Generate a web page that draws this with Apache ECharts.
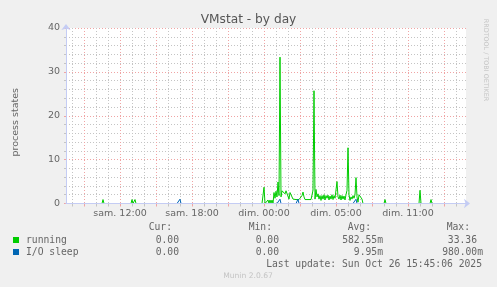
<!DOCTYPE html>
<html><head><meta charset="utf-8">
<script src="https://cdn.jsdelivr.net/npm/echarts@6/dist/echarts.min.js"></script>
<style>html,body{margin:0;padding:0;background:#f0f0f0}#c{width:497px;height:287px}</style>
</head><body><div id="c"></div>
<script>
// ---- data ----
const titleText = 'VMstat - by day';
const yAxisTitle = 'process states';
const seriesNames = ['running', 'I/O sleep'];
const seriesColors = ['#00cc00', '#0066b3'];
const yMin = 0, yMax = 40, yStep = 10;
const sampleCount = 401;          // 5-minute samples
const stepMinutes = 5;
const startMinute = 450;          // sam. 07:30 (minutes from sam. 00:00)
const dstSwitchMinute = 1620;     // dim. 03:00 CEST -> 02:00 CET
const dayNames = ['sam.', 'dim.'];
const xTickLabels = ['sam. 12:00', 'sam. 18:00', 'dim. 00:00', 'dim. 05:00', 'dim. 11:00'];
// [sample index, value]
const runningSamples = [
  [37,0.9],[66,0.9],[69,0.9],
  [198,3.7],[202,0.8],[204,0.8],[206,0.8],[208,2.5],[209,1.2],[210,2.8],[211,1.5],[212,4.9],[213,1.8],
  [214,33.36],[215,1.5],[216,2.9],[217,2.9],[218,2.9],[219,2.2],[220,2.9],[221,2.5],[222,3.0],[223,1.0],
  [224,2.5],[225,2.6],[226,2.2],[227,1.0],[228,0.9],[229,0.9],[230,0.9],[231,0.9],[232,0.9],[233,0.9],
  [234,0.9],[235,0.9],[236,1.8],[237,2.6],[238,1.5],[239,0.9],[240,0.9],[241,0.9],[242,0.9],[243,0.9],
  [244,0.9],[245,0.9],[246,0.9],[247,3.0],[248,25.7],[249,1.0],[250,3.2],[251,1.5],[252,2.2],[253,1.0],
  [254,1.8],[255,0.7],[256,1.8],[257,1.0],[258,2.0],[259,0.8],[260,1.8],[261,1.2],[262,1.9],[263,0.8],
  [264,1.7],[265,1.0],[266,2.0],[267,0.9],[268,1.8],[269,1.2],[270,1.5],[271,5.0],[272,1.5],[273,1.0],
  [274,1.9],[275,0.8],[276,1.8],[277,1.0],[278,1.7],[279,0.8],[280,2.0],[281,3.0],[282,12.7],[283,2.0],
  [284,0.7],[285,1.5],[286,1.0],[287,1.8],[288,1.2],[289,2.0],[290,5.9],[291,1.5],[292,0.3],[293,2.0],
  [294,1.8],[295,2.0],[296,1.0],
  [319,0.9],[354,3.0],[365,0.9]
];
const ioSleepSamples = [[114,0.98],[214,0.98],[232,0.98],[290,0.98]];
const legendHeader = ['Cur:', 'Min:', 'Avg:', 'Max:'];
const runningStats = ['0.00', '0.00', '582.55m', '33.36'];
const ioSleepStats = ['0.00', '0.00', '9.95m', '980.00m'];
const lastUpdate = 'Last update: Sun Oct 26 15:45:06 2025';
const footerText = 'Munin 2.0.67';
const watermarkText = 'RRDTOOL / TOBI OETIKER';

// ---- build ----
function pad(n){ return (n < 10 ? '0' : '') + n; }
const realMinute = i => startMinute + stepMinutes * i;
const categories = [];
for (let i = 0; i < sampleCount; i++) {
  const real = realMinute(i);
  const local = real >= dstSwitchMinute ? real - 60 : real;
  const day = local >= 1440 ? 1 : 0;
  const m = local - day * 1440;
  categories.push(dayNames[day] + ' ' + pad(Math.floor(m / 60)) + ':' + pad(m % 60));
}
function fill(samples){
  const arr = new Array(sampleCount).fill(0);
  samples.forEach(([i, v]) => { arr[i] = v; });
  return arr;
}
const isMajor = i => realMinute(i) % 180 === 0;
const isMinor = i => realMinute(i) % 60 === 0 && !isMajor(i);

const FONT = 'DejaVu Sans';
const MONO = 'DejaVu Sans Mono';
const fontColor = '#666666';
const gridColor = '#c4c4c4';
const majorColor = '#f0a4a4';
const axisColor = '#c4ccf4';
const dash = [1, 2];

const chart = echarts.init(document.getElementById('c'), null, {renderer: 'canvas'});

const headerCols = [172, 272, 371, 470];
const statCols = [179, 279, 383, 483];
const graphics = [];
function txt(x, y, t, font, fill, align, extra) {
  return Object.assign({type:'text', x: x, y: y,
    style:{text:t, font:font, fill:fill, align:align, verticalAlign:'middle', textAlign:align, textVerticalAlign:'middle'}}, extra || {});
}
const monoFont = '9.7px "' + MONO + '"';
legendHeader.forEach((t, k) => graphics.push(txt(headerCols[k], 227, t, monoFont, fontColor, 'right')));
[runningStats, ioSleepStats].forEach((row, r) => row.forEach((t, k) => {
  const noUnit = k >= 2 && !/[a-zA-Z]$/.test(t);
  graphics.push(txt(statCols[k] - (noUnit ? 6 : 0), 240 + r * 12, t, monoFont, fontColor, 'right'));
}));
graphics.push(txt(482, 264, lastUpdate, monoFont, fontColor, 'right'));
graphics.push(txt(248, 276, footerText, '7.6px "' + FONT + '"', '#c4c4c4', 'center'));
graphics.push(txt(486, 60, watermarkText, '6.4px "' + FONT + '"', '#c4c4c4', 'center', {rotation: -Math.PI / 2}));

const catAxisBase = {type:'category', data: categories, boundaryGap:false, gridIndex:0, position:'bottom'};

chart.setOption({
  animation: false,
  backgroundColor: '#f0f0f0',
  title: {text: titleText, left: 'center', top: 12, padding: 0,
    textStyle: {fontFamily: FONT, fontSize: 12.2, fontWeight: 'normal', color: '#555', lineHeight: 15}},
  grid: {left: 66, top: 28, width: 400, height: 175.5, show: true, backgroundColor: '#ffffff', borderWidth: 0},
  legend: {orient: 'vertical', left: 13, top: 234, itemWidth: 6, itemHeight: 6, itemGap: 0, icon: 'rect',
    padding: 0, data: seriesNames,
    textStyle: {fontFamily: MONO, fontSize: 9.7, color: fontColor, lineHeight: 12, padding: [0, 0, 0, 2]}},
  xAxis: [
    Object.assign({}, catAxisBase, {
      axisLine: {show: false},
      axisTick: {show: true, length: 3, interval: isMajor, lineStyle: {color: majorColor}},
      splitLine: {show: true, interval: isMajor, lineStyle: {color: majorColor, type: dash, width: 1}},
      axisLabel: {show: true, interval: (i, v) => xTickLabels.includes(v), margin: 5,
        fontFamily: FONT, fontSize: 9.5, color: fontColor}
    }),
    Object.assign({}, catAxisBase, {
      axisLine: {show: false},
      axisTick: {show: true, length: 3, interval: isMinor, lineStyle: {color: gridColor}},
      splitLine: {show: true, interval: isMinor, lineStyle: {color: gridColor, type: dash, width: 1}},
      axisLabel: {show: false}
    }),
    Object.assign({}, catAxisBase, {
      z: 5,
      axisLine: {show: true, lineStyle: {color: axisColor, width: 1}, symbol: ['none', 'arrow'], symbolSize: [7, 6], symbolOffset: [0, 4]},
      axisTick: {show: false}, splitLine: {show: false}, axisLabel: {show: false}
    })
  ],
  yAxis: {
    type: 'value', min: yMin, max: yMax, interval: yStep,
    name: yAxisTitle, nameLocation: 'middle', nameRotate: 90, nameGap: 45,
    nameTextStyle: {fontFamily: FONT, fontSize: 9.5, color: fontColor, padding: [0, 13, 0, 0]},
    axisLine: {show: true, lineStyle: {color: axisColor}, symbol: ['none', 'arrow'], symbolSize: [7, 6], symbolOffset: [0, 4]},
    axisTick: {show: true, length: 2, lineStyle: {color: majorColor}},
    minorTick: {show: true, splitNumber: 5, length: 2, lineStyle: {color: gridColor}},
    splitLine: {show: true, lineStyle: {color: majorColor, type: dash}},
    minorSplitLine: {show: true, lineStyle: {color: gridColor, type: dash}},
    axisLabel: {margin: 6, fontFamily: FONT, fontSize: 9.5, color: fontColor}
  },
  series: [
    {name: seriesNames[0], type: 'line', xAxisIndex: 0, data: fill(runningSamples), showSymbol: false,
     symbol: 'none', color: seriesColors[0], lineStyle: {width: 1, color: seriesColors[0]}},
    {name: seriesNames[1], type: 'line', xAxisIndex: 0, data: fill(ioSleepSamples), showSymbol: false,
     symbol: 'none', color: seriesColors[1], lineStyle: {width: 1, color: seriesColors[1]}}
  ],
  graphic: graphics
});
</script></body></html>
